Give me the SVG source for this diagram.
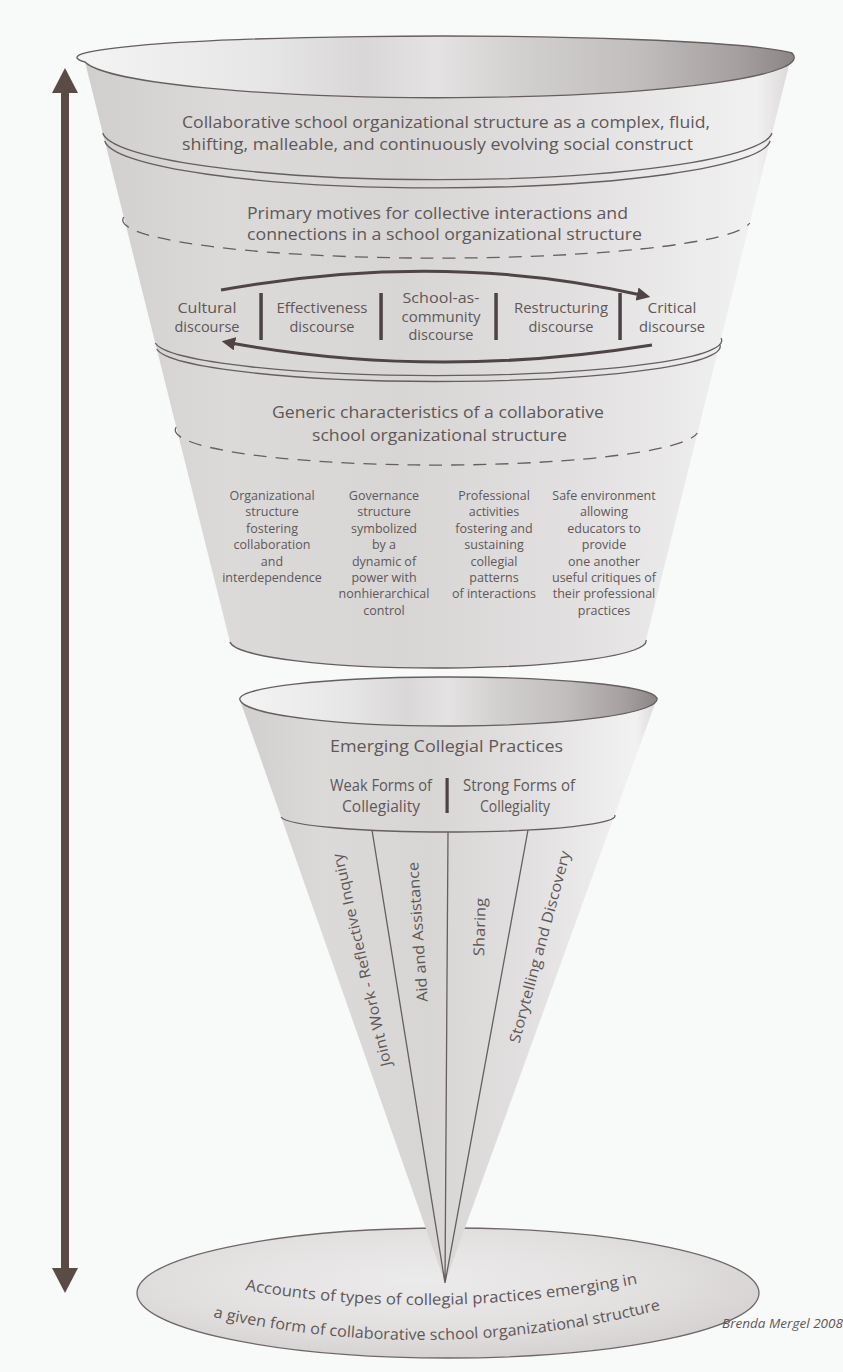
<svg xmlns="http://www.w3.org/2000/svg" width="843" height="1372" viewBox="0 0 843 1372">
<defs>
  <style>
    .t { font-family: "Open Sans", "Liberation Sans", sans-serif; fill: #5e5858; }
    .h { font-size: 17px; }
    .m { font-size: 15px; text-anchor: middle; }
    .s { font-size: 12.5px; text-anchor: middle; }
    .r { font-size: 15px; text-anchor: middle; }
    .ln { fill: none; stroke: #675e5e; stroke-width: 1.3; }
    .dash { stroke-dasharray: 13 9; }
    .bar { fill: #4d4343; }
    .arr { fill: none; stroke: #4f4545; stroke-width: 3; marker-end: url(#ah); }
  </style>
  <linearGradient id="coneG" x1="0" y1="0" x2="1" y2="0">
    <stop offset="0" stop-color="#d1cece"/>
    <stop offset="0.2" stop-color="#dcd9d9"/>
    <stop offset="0.45" stop-color="#d8d5d5"/>
    <stop offset="0.7" stop-color="#e2e0e0"/>
    <stop offset="0.88" stop-color="#eeeded"/>
    <stop offset="0.95" stop-color="#f2f1f1"/>
    <stop offset="1" stop-color="#dad7d7"/>
  </linearGradient>
  <linearGradient id="rimG" x1="0" y1="0" x2="1" y2="0">
    <stop offset="0" stop-color="#f4f4f4"/>
    <stop offset="0.25" stop-color="#e8e7e7"/>
    <stop offset="0.4" stop-color="#d9d7d7"/>
    <stop offset="0.5" stop-color="#e4e2e2"/>
    <stop offset="0.62" stop-color="#d2cfcf"/>
    <stop offset="0.78" stop-color="#c2bebe"/>
    <stop offset="0.92" stop-color="#a6a0a0"/>
    <stop offset="1" stop-color="#8b8585"/>
  </linearGradient>
  <radialGradient id="baseG" cx="0.45" cy="0.4" r="0.65">
    <stop offset="0" stop-color="#ecebeb"/>
    <stop offset="0.6" stop-color="#e2dfdf"/>
    <stop offset="1" stop-color="#d3cfcf"/>
  </radialGradient>
  <marker id="ah" viewBox="0 0 10 10" refX="3" refY="5" markerWidth="4.5" markerHeight="4.5" orient="auto">
    <path d="M0,0 L10,5 L0,10 Z" fill="#4f4545"/>
  </marker>
</defs>

<rect x="0" y="0" width="843" height="1372" fill="#f8f9f9"/>

<g id="scale-arrow">
  <rect x="61" y="90" width="8" height="1180" fill="#5a4b46"/>
  <polygon points="65,68 52,93 78,93" fill="#5a4b46"/>
  <polygon points="65,1293 52,1268 78,1268" fill="#5a4b46"/>
</g>

<g id="base-ellipse">
  <ellipse cx="448" cy="1293" rx="311" ry="65" fill="url(#baseG)" stroke="#6f6767" stroke-width="1.3"/>
  <path id="bp1" d="M245,1290 Q441,1323 640,1283" fill="none"/>
  <path id="bp2" d="M213,1317 Q440,1367 667,1308" fill="none"/>
  <text class="t" font-size="15.5"><textPath href="#bp1" textLength="395" lengthAdjust="spacingAndGlyphs">Accounts of types of collegial practices emerging in</textPath></text>
  <text class="t" font-size="15.5"><textPath href="#bp2" textLength="452" lengthAdjust="spacingAndGlyphs">a given form of collaborative school organizational structure</textPath></text>
</g>

<g id="lower-cone">
  <path d="M240,700 L445,1283 L657,698 Z" fill="url(#coneG)"/>
  <path d="M240,700 A208.5,22 0 0 1 657,698 A208.5,27 0 0 1 240,700 Z" fill="url(#rimG)" stroke="#675e5e" stroke-width="1.3"/>
  <path class="ln" d="M281,817 A167,16 0 0 0 614.6,815"/>
  <path class="ln" d="M372,830 L445,1283 M448,832 L445,1283 M528,830 L445,1283"/>
  <text class="t h" x="446.5" y="752" text-anchor="middle" textLength="233" lengthAdjust="spacingAndGlyphs">Emerging Collegial Practices</text>
  <text class="t" font-size="15.5" x="381" y="791" text-anchor="middle" textLength="102" lengthAdjust="spacingAndGlyphs">Weak Forms of</text>
  <text class="t" font-size="15.5" x="381" y="812" text-anchor="middle" textLength="78" lengthAdjust="spacingAndGlyphs">Collegiality</text>
  <rect class="bar" x="445.5" y="778" width="3.2" height="35"/>
  <text class="t" font-size="15.5" x="519" y="791" text-anchor="middle" textLength="112" lengthAdjust="spacingAndGlyphs">Strong Forms of</text>
  <text class="t" font-size="15.5" x="515" y="812" text-anchor="middle" textLength="70" lengthAdjust="spacingAndGlyphs">Collegiality</text>
  <text class="t r" transform="translate(362,960) rotate(-103)" x="0" y="5" textLength="218" lengthAdjust="spacingAndGlyphs">Joint Work - Reflective Inquiry</text>
  <text class="t r" transform="translate(418,932) rotate(-94)" x="0" y="5" textLength="140" lengthAdjust="spacingAndGlyphs">Aid and Assistance</text>
  <text class="t r" transform="translate(480,927) rotate(-88)" x="0" y="5" textLength="58" lengthAdjust="spacingAndGlyphs">Sharing</text>
  <text class="t r" transform="translate(540,947) rotate(-75)" x="0" y="5" textLength="198" lengthAdjust="spacingAndGlyphs">Storytelling and Discovery</text>
</g>

<g id="top-cone">
  <path d="M85,62 L230,642 A208,27 0 0 0 646,640 L792,53 Z" fill="url(#coneG)"/>
  <path class="ln" d="M230,642 A208,27 0 0 0 646,640"/>
  <path d="M85,62 A354,21 0 0 1 792,53 A354,40 0 0 1 85,62 Z" fill="url(#rimG)" stroke="#675e5e" stroke-width="1.3"/>
</g>

<g id="band-construct">
  <text class="t h" x="182" y="128" textLength="528" lengthAdjust="spacingAndGlyphs">Collaborative school organizational structure as a complex, fluid,</text>
  <text class="t h" x="182" y="150" textLength="511" lengthAdjust="spacingAndGlyphs">shifting, malleable, and continuously evolving social construct</text>
  <path class="ln" d="M102.75,133 A335,49 0 0 0 772,133"/>
  <path class="ln" d="M104.75,141 A333,49 0 0 0 770.1,141"/>
</g>

<g id="band-motives">
  <text class="t" font-size="16" x="247" y="219" textLength="381" lengthAdjust="spacingAndGlyphs">Primary motives for collective interactions and</text>
  <text class="t" font-size="16" x="247" y="240" textLength="395" lengthAdjust="spacingAndGlyphs">connections in a school organizational structure</text>
  <path class="ln dash" d="M123.75,217 A313,38 0 0 0 749.7,223"/>
</g>

<g id="discourses">
  <g id="cultural">
    <text class="t m" x="207" y="313" textLength="59" lengthAdjust="spacingAndGlyphs">Cultural</text>
    <text class="t m" x="207" y="332" textLength="65" lengthAdjust="spacingAndGlyphs">discourse</text>
  </g>
  <g id="effectiveness">
    <text class="t m" x="322" y="313" textLength="91" lengthAdjust="spacingAndGlyphs">Effectiveness</text>
    <text class="t m" x="322" y="332" textLength="65" lengthAdjust="spacingAndGlyphs">discourse</text>
  </g>
  <g id="school-as-community">
    <text class="t m" x="441" y="303" textLength="77" lengthAdjust="spacingAndGlyphs">School-as-</text>
    <text class="t m" x="441" y="322" textLength="79" lengthAdjust="spacingAndGlyphs">community</text>
    <text class="t m" x="441" y="340" textLength="65" lengthAdjust="spacingAndGlyphs">discourse</text>
  </g>
  <g id="restructuring">
    <text class="t m" x="561" y="313" textLength="94" lengthAdjust="spacingAndGlyphs">Restructuring</text>
    <text class="t m" x="561" y="332" textLength="65" lengthAdjust="spacingAndGlyphs">discourse</text>
  </g>
  <g id="critical">
    <text class="t m" x="672" y="313" textLength="49" lengthAdjust="spacingAndGlyphs">Critical</text>
    <text class="t m" x="672" y="332" textLength="66" lengthAdjust="spacingAndGlyphs">discourse</text>
  </g>
  <rect class="bar" x="259.3" y="293" width="3.5" height="47"/>
  <rect class="bar" x="379.3" y="293" width="3.5" height="47"/>
  <rect class="bar" x="494.3" y="293" width="3.5" height="47"/>
  <rect class="bar" x="618.3" y="293" width="3.5" height="47"/>
  <path class="ln" d="M155.25,343 A283,35 0 0 0 721,338"/>
  <path class="ln" d="M156.75,349 A282,35 0 0 0 719.5,344"/>
</g>

<g id="connectors">
  <path class="arr" d="M221,290 Q441,250 641,295"/>
  <path class="arr" d="M652,345 Q435,380 231,343"/>
</g>

<g id="band-characteristics">
  <text class="t h" x="438" y="418" text-anchor="middle" textLength="332" lengthAdjust="spacingAndGlyphs">Generic characteristics of a collaborative</text>
  <text class="t h" x="439.5" y="441" text-anchor="middle" textLength="255" lengthAdjust="spacingAndGlyphs">school organizational structure</text>
  <path class="ln dash" d="M176.25,427 A261,35 0 0 0 697.4,433"/>
  <g id="char-organizational">
    <text class="t s" x="272" y="500">Organizational</text>
    <text class="t s" x="272" y="516.4">structure</text>
    <text class="t s" x="272" y="532.8">fostering</text>
    <text class="t s" x="272" y="549.2">collaboration</text>
    <text class="t s" x="272" y="565.6">and</text>
    <text class="t s" x="272" y="582">interdependence</text>
  </g>
  <g id="char-governance">
    <text class="t s" x="384" y="500">Governance</text>
    <text class="t s" x="384" y="516.4">structure</text>
    <text class="t s" x="384" y="532.8">symbolized</text>
    <text class="t s" x="384" y="549.2">by a</text>
    <text class="t s" x="384" y="565.6">dynamic of</text>
    <text class="t s" x="384" y="582">power with</text>
    <text class="t s" x="384" y="598.4">nonhierarchical</text>
    <text class="t s" x="384" y="614.8">control</text>
  </g>
  <g id="char-professional">
    <text class="t s" x="494" y="500">Professional</text>
    <text class="t s" x="494" y="516.4">activities</text>
    <text class="t s" x="494" y="532.8">fostering and</text>
    <text class="t s" x="494" y="549.2">sustaining</text>
    <text class="t s" x="494" y="565.6">collegial</text>
    <text class="t s" x="494" y="582">patterns</text>
    <text class="t s" x="494" y="598.4">of interactions</text>
  </g>
  <g id="char-safe">
    <text class="t s" x="604" y="500">Safe environment</text>
    <text class="t s" x="604" y="516.4">allowing</text>
    <text class="t s" x="604" y="532.8">educators to</text>
    <text class="t s" x="604" y="549.2">provide</text>
    <text class="t s" x="604" y="565.6">one another</text>
    <text class="t s" x="604" y="582">useful critiques of</text>
    <text class="t s" x="604" y="598.4">their professional</text>
    <text class="t s" x="604" y="614.8">practices</text>
  </g>
</g>

<text class="t" x="722" y="1328" font-size="12.5" font-style="italic" textLength="121" lengthAdjust="spacingAndGlyphs">Brenda Mergel 2008</text>
</svg>
